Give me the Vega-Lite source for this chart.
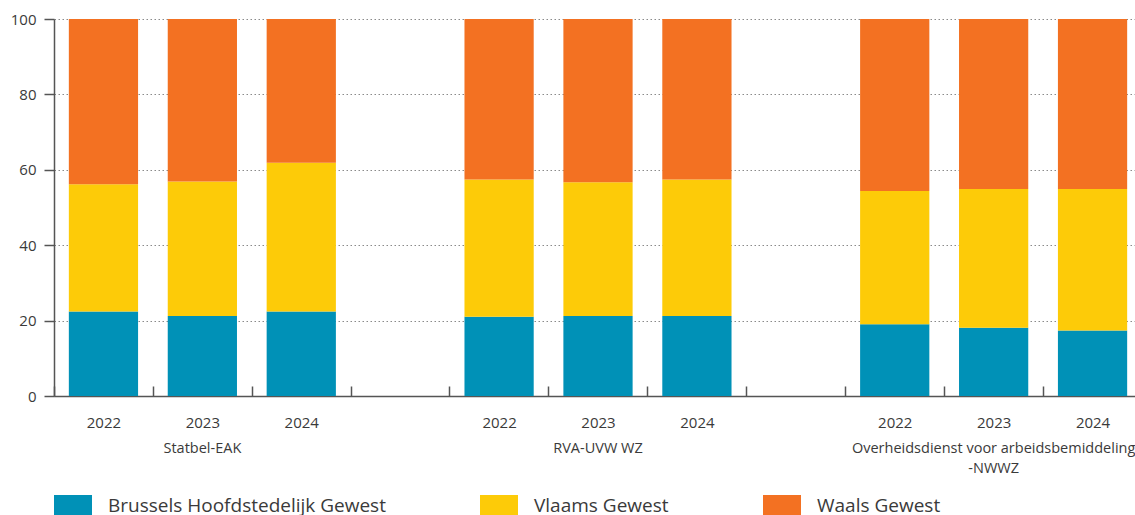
{
  "$schema": "https://vega.github.io/schema/vega-lite/v6.json",
  "autosize": "none",
  "padding": {"left": 54, "top": 19, "right": 0, "bottom": 119},
  "width": 1088,
  "height": 377,
  "config": {
    "view": {"stroke": null},
    "font": "Open Sans",
    "axis": {"labelFont": "Open Sans", "labelColor": "#3a3a3a"},
    "legend": {"labelFont": "Open Sans", "labelColor": "#3a3a3a"}
  },
  "data": {
    "values": [
      {"slot": "Statbel-EAK|2022", "regio": "Brussels Hoofdstedelijk Gewest", "ord": 1, "pct": 22.4},
      {"slot": "Statbel-EAK|2022", "regio": "Vlaams Gewest", "ord": 2, "pct": 33.8},
      {"slot": "Statbel-EAK|2022", "regio": "Waals Gewest", "ord": 3, "pct": 43.8},
      {"slot": "Statbel-EAK|2023", "regio": "Brussels Hoofdstedelijk Gewest", "ord": 1, "pct": 21.2},
      {"slot": "Statbel-EAK|2023", "regio": "Vlaams Gewest", "ord": 2, "pct": 35.7},
      {"slot": "Statbel-EAK|2023", "regio": "Waals Gewest", "ord": 3, "pct": 43.1},
      {"slot": "Statbel-EAK|2024", "regio": "Brussels Hoofdstedelijk Gewest", "ord": 1, "pct": 22.4},
      {"slot": "Statbel-EAK|2024", "regio": "Vlaams Gewest", "ord": 2, "pct": 39.5},
      {"slot": "Statbel-EAK|2024", "regio": "Waals Gewest", "ord": 3, "pct": 38.1},
      {"slot": "RVA-UVW WZ|2022", "regio": "Brussels Hoofdstedelijk Gewest", "ord": 1, "pct": 21.0},
      {"slot": "RVA-UVW WZ|2022", "regio": "Vlaams Gewest", "ord": 2, "pct": 36.4},
      {"slot": "RVA-UVW WZ|2022", "regio": "Waals Gewest", "ord": 3, "pct": 42.6},
      {"slot": "RVA-UVW WZ|2023", "regio": "Brussels Hoofdstedelijk Gewest", "ord": 1, "pct": 21.2},
      {"slot": "RVA-UVW WZ|2023", "regio": "Vlaams Gewest", "ord": 2, "pct": 35.5},
      {"slot": "RVA-UVW WZ|2023", "regio": "Waals Gewest", "ord": 3, "pct": 43.3},
      {"slot": "RVA-UVW WZ|2024", "regio": "Brussels Hoofdstedelijk Gewest", "ord": 1, "pct": 21.2},
      {"slot": "RVA-UVW WZ|2024", "regio": "Vlaams Gewest", "ord": 2, "pct": 36.2},
      {"slot": "RVA-UVW WZ|2024", "regio": "Waals Gewest", "ord": 3, "pct": 42.6},
      {"slot": "ODA-NWWZ|2022", "regio": "Brussels Hoofdstedelijk Gewest", "ord": 1, "pct": 19.0},
      {"slot": "ODA-NWWZ|2022", "regio": "Vlaams Gewest", "ord": 2, "pct": 35.4},
      {"slot": "ODA-NWWZ|2022", "regio": "Waals Gewest", "ord": 3, "pct": 45.6},
      {"slot": "ODA-NWWZ|2023", "regio": "Brussels Hoofdstedelijk Gewest", "ord": 1, "pct": 18.1},
      {"slot": "ODA-NWWZ|2023", "regio": "Vlaams Gewest", "ord": 2, "pct": 36.8},
      {"slot": "ODA-NWWZ|2023", "regio": "Waals Gewest", "ord": 3, "pct": 45.1},
      {"slot": "ODA-NWWZ|2024", "regio": "Brussels Hoofdstedelijk Gewest", "ord": 1, "pct": 17.4},
      {"slot": "ODA-NWWZ|2024", "regio": "Vlaams Gewest", "ord": 2, "pct": 37.5},
      {"slot": "ODA-NWWZ|2024", "regio": "Waals Gewest", "ord": 3, "pct": 45.1}
    ]
  },
  "layer": [
    {
      "mark": {"type": "bar"},
      "encoding": {
        "x": {
          "field": "slot",
          "type": "nominal",
          "sort": null,
          "scale": {
            "domain": ["Statbel-EAK|2022", "Statbel-EAK|2023", "Statbel-EAK|2024", "gap1",
                       "RVA-UVW WZ|2022", "RVA-UVW WZ|2023", "RVA-UVW WZ|2024", "gap2",
                       "ODA-NWWZ|2022", "ODA-NWWZ|2023", "ODA-NWWZ|2024"],
            "paddingInner": 0.3,
            "paddingOuter": 0.15
          },
          "axis": {
            "title": null,
            "orient": "bottom",
            "labelAngle": 0,
            "labelExpr": "indexof(datum.value, 'gap') >= 0 ? '' : slice(datum.value, -4)",
            "labelFontSize": 15,
            "labelPadding": 29,
            "labelOffset": 15,
            "labelOverlap": false,
            "bandPosition": 0,
            "tickOffset": -15,
            "tickSize": -10,
            "tickColor": "#555555",
            "tickWidth": 1.5,
            "domainColor": "#555555",
            "domainWidth": 1.5,
            "grid": false
          }
        },
        "y": {
          "field": "pct",
          "type": "quantitative",
          "stack": "zero",
          "scale": {"domain": [0, 100], "nice": false},
          "axis": {
            "title": null,
            "values": [0, 20, 40, 60, 80, 100],
            "labelFontSize": 15,
            "labelPadding": 8,
            "tickSize": 10,
            "tickColor": "#555555",
            "tickWidth": 1.5,
            "domainColor": "#555555",
            "domainWidth": 1.5,
            "grid": true,
            "gridColor": "#8a8a8a",
            "gridDash": [1.5, 2.5],
            "gridWidth": 1
          }
        },
        "color": {
          "field": "regio",
          "type": "nominal",
          "scale": {
            "domain": ["Brussels Hoofdstedelijk Gewest", "Vlaams Gewest", "Waals Gewest"],
            "range": ["#0091b7", "#fdcb08", "#f37122"]
          },
          "legend": {
            "title": null,
            "orient": "none",
            "direction": "horizontal",
            "legendX": 0,
            "legendY": 468,
            "padding": 0,
            "symbolType": "M-1,-0.6H1V0.6H-1Z",
            "symbolSize": 1444,
            "symbolStrokeWidth": 0,
            "symbolOpacity": 1,
            "labelFontSize": 19,
            "labelOffset": 16,
            "columnPadding": 94,
            "labelLimit": 500
          }
        },
        "order": {"field": "ord", "type": "quantitative"}
      }
    },
    {
      "mark": {"type": "bar", "opacity": 0},
      "encoding": {
        "x": {
          "field": "slot",
          "type": "nominal",
          "sort": null,
          "axis": {
            "title": null,
            "orient": "bottom",
            "labelAngle": 0,
            "domain": false,
            "ticks": false,
            "grid": false,
            "labelFontSize": 14.5,
            "labelPadding": 45,
            "labelLineHeight": 20,
            "labelLimit": 500,
            "labelOverlap": false,
            "labelBound": false,
            "labelExpr": "datum.value == 'Statbel-EAK|2023' ? 'Statbel-EAK' : datum.value == 'RVA-UVW WZ|2023' ? 'RVA-UVW WZ' : datum.value == 'ODA-NWWZ|2023' ? ['Overheidsdienst voor arbeidsbemiddeling', '-NWWZ'] : ''"
          }
        }
      }
    }
  ],
  "resolve": {"axis": {"x": "independent"}}
}
